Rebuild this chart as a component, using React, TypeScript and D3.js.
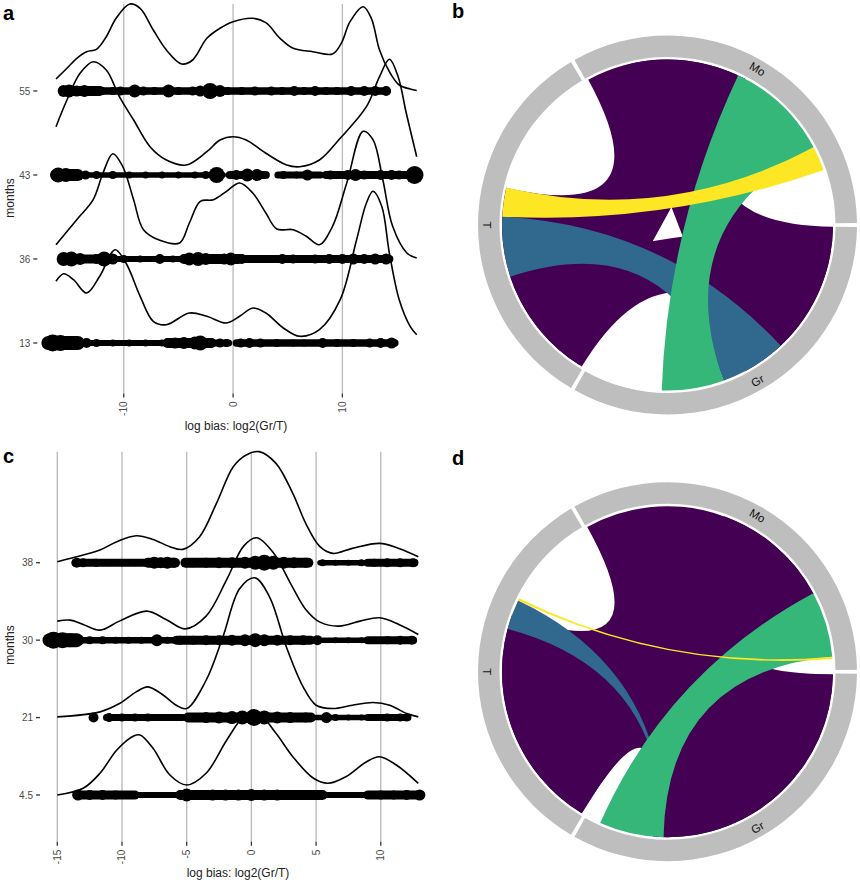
import React from "react";
import * as d3 from "d3";

const FONT = "'Liberation Sans', Arial, Helvetica, sans-serif";
const VIRIDIS = ["#440154", "#31688E", "#35B779", "#FDE725"];
const GRID = "#bdbdbd";

type Pt = [number, number];
type Seg = [number, number, number];

// ---------- panel a : ridges per month ----------
const monthsA = ["55", "43", "36", "13"];
const ticksA = [-10, 0, 10];

const densA55: Pt[] = [[-16.2, 12], [-15.2, 22.7], [-14.3, 32.7], [-13.4, 39.3], [-12.5, 41.7], [-11.6, 54.3], [-10.7, 72.7], [-9.45, 87], [-8.5, 82.7], [-7.3, 61], [-6.1, 41], [-4.7, 27], [-3.7, 31], [-2.4, 52.7], [-1.2, 62.7], [0, 69.3], [1.8, 72.7], [3.0, 68.3], [4.3, 52.7], [5.5, 42.7], [7.3, 39.3], [9.1, 37], [9.9, 47.7], [10.7, 69.3], [11.9, 84.3], [12.65, 72.7], [13.4, 41], [14.3, 19.3], [15.2, 6], [16.2, 2], [16.8, 0.5]];
const densA43: Pt[] = [[-16.2, 48.3], [-15.2, 75], [-14.0, 101.7], [-12.8, 113.3], [-11.6, 105], [-10.4, 78.3], [-9.1, 55], [-7.6, 28.3], [-6.1, 15], [-4.3, 10], [-2.4, 23.3], [-1.2, 35], [0, 38.3], [1.2, 35], [3.0, 21.7], [4.9, 10], [6.1, 8.3], [7.9, 15], [9.8, 36.7], [12.2, 68.3], [13.4, 98.3], [14.3, 115.7], [15.1, 98.3], [15.85, 61.7], [16.8, 18.3]];
const densA36: Pt[] = [[-16.2, 14.3], [-14.3, 39.3], [-12.8, 59.3], [-11.9, 86], [-11.0, 105.3], [-10.1, 92.7], [-9.1, 59.3], [-8.2, 29.3], [-6.7, 18.7], [-4.9, 16], [-4.0, 36], [-3.0, 57.7], [-1.8, 59.3], [-0.6, 67.7], [0.6, 76], [1.8, 66], [3.0, 46], [4.0, 30], [5.5, 29.3], [6.7, 22.7], [7.9, 14.3], [9.1, 32.7], [10.4, 76], [11.9, 127.7], [12.8, 119.3], [13.7, 79.3], [14.6, 32.7], [15.9, 6], [16.8, 1]];
const densA13: Pt[] = [[-16.2, 61.7], [-15.5, 69.3], [-14.6, 63.3], [-13.4, 50], [-12.2, 66.7], [-10.8, 93.3], [-9.8, 80], [-8.5, 46.7], [-7.3, 21.7], [-6.1, 18.3], [-4.0, 30], [-2.4, 26.7], [-0.6, 20], [0.6, 26.7], [1.8, 35], [3.0, 30], [4.6, 15], [6.1, 6.7], [7.9, 13.3], [9.8, 43.3], [11.3, 103.3], [12.2, 140], [12.8, 151.7], [13.6, 136.7], [14.3, 90], [15.2, 43.3], [16.2, 16.7], [16.8, 8.3]];

// runs of overlapping observations: [from, to, spread], then single large points [log bias, size]
const segA55: Seg[] = [[-15.5, -12.2, 10], [-12.2, 14.0, 7.5]];
const segA43: Seg[] = [[-16.2, -14.2, 12], [-14.2, -0.9, 5.5], [-0.3, 3.0, 8], [4.1, 8.0, 7], [8.5, 15.8, 8]];
const segA36: Seg[] = [[-15.5, -11, 9], [-11, -4.5, 6], [-4.5, 0.5, 10], [0.5, 14.3, 8]];
const segA13: Seg[] = [[-16.9, -14.2, 14], [-13.6, -6, 6], [-6, -2, 10], [-2, -0.4, 7], [0.3, 14.8, 7.5]];

const dotsA55: Pt[] = [[-15.5, 6], [-15.0, 6.5], [-14.3, 5.5], [-13.6, 6], [-12.8, 5], [-12.0, 4], [-11.0, 4], [-10.3, 4.5], [-9.0, 6.5], [-8.2, 4.5], [-7.2, 4], [-5.9, 6.5], [-5.0, 4], [-3.7, 4.5], [-3.0, 5.5], [-2.1, 8], [-1.2, 6], [-0.5, 4], [0.8, 4], [2.0, 4.5], [3.5, 4.5], [4.5, 4], [5.6, 5], [6.5, 4], [7.5, 5], [8.5, 4], [9.5, 4], [10.8, 5], [12.0, 5], [13.0, 5], [14.0, 5]];
const dotsA43: Pt[] = [[-16.0, 7.5], [-15.3, 7], [-14.6, 6], [-13.5, 4.5], [-12.5, 4], [-11.0, 4], [-9.5, 3.5], [-8.0, 3.5], [-6.5, 3.5], [-5.0, 3.5], [-3.5, 3.5], [-2.5, 4], [-1.5, 8], [0.3, 5], [1.3, 6.5], [2.2, 6], [4.6, 4], [5.8, 3.5], [6.8, 5.5], [8.9, 4.5], [10.5, 5], [11.2, 6], [12.0, 4.5], [13.5, 5], [14.5, 5], [15.2, 4.5], [16.6, 9]];
const dotsA36: Pt[] = [[-15.5, 7], [-14.8, 7.5], [-14.0, 6], [-12.5, 5], [-11.8, 7.5], [-11.0, 5.5], [-10.0, 4], [-8.5, 3.5], [-6.7, 5], [-5.5, 3.5], [-4.0, 6.5], [-3.2, 7], [-2.5, 6], [-1.5, 5], [-0.8, 5.5], [-0.2, 6.5], [0.8, 5], [2.0, 4], [3.5, 4], [4.5, 5], [5.5, 4.5], [6.5, 4], [7.5, 4.5], [8.8, 5], [10.0, 5], [11.0, 5.5], [12.0, 5], [13.0, 5.5], [14.0, 5.5]];
const dotsA13: Pt[] = [[-16.5, 8.5], [-15.8, 8], [-15.0, 7], [-14.4, 6], [-13.4, 5], [-12.5, 4], [-11.0, 3.5], [-9.5, 3.5], [-8.0, 3.5], [-6.5, 3.5], [-5.3, 5.5], [-4.5, 6], [-3.5, 6.5], [-3.0, 7.5], [-2.0, 5], [-1.2, 4.5], [-0.6, 4], [0.7, 4.5], [1.5, 5], [2.5, 4.5], [4.0, 4], [5.5, 3.5], [6.5, 3.5], [8.2, 5], [9.5, 4], [11.0, 4], [12.5, 4.5], [13.5, 5], [14.5, 5.5]];

// ---------- panel c ----------
const monthsC = ["38", "30", "21", "4.5"];
const ticksC = [-15, -10, -5, 0, 5, 10];

const densC38: Pt[] = [[-15, 1], [-13, 7.7], [-11.7, 12.7], [-10.4, 21], [-8.9, 27], [-7.6, 23.3], [-6.3, 16], [-5.3, 13.3], [-4.0, 26], [-2.7, 59.3], [-1.4, 96], [-0.4, 107.7], [0.6, 111], [1.9, 99.3], [3.2, 69.3], [4.2, 39.3], [5.3, 16], [6.3, 9.3], [7.8, 14.3], [9.9, 19.3], [11.4, 14.3], [12.9, 6]];
const densC30: Pt[] = [[-15, 19], [-14, 20], [-13, 15.7], [-11.7, 10], [-10.2, 19], [-8.1, 29], [-6.6, 20.7], [-5.1, 11.3], [-3.5, 24], [-1.9, 60.7], [-0.6, 94], [0.4, 102.3], [1.7, 87.3], [3.0, 57.3], [4.2, 30.7], [5.3, 18], [6.8, 14], [8.4, 19], [9.9, 22.3], [11.4, 15.7], [12.9, 5.7]];
const densC21: Pt[] = [[-15, 0.7], [-11.7, 5.7], [-10.2, 14], [-8.9, 25.7], [-8.0, 30.7], [-6.8, 22.3], [-5.8, 12.3], [-5.0, 9], [-3.5, 37.3], [-2.2, 80.7], [-0.9, 129], [0.26, 139.7], [1.4, 120.7], [2.7, 70.7], [4.0, 30.7], [5.0, 12.3], [6.3, 9], [7.8, 12.3], [9.4, 15], [10.7, 12.3], [12.0, 4], [12.9, 0.7]];
const densC45: Pt[] = [[-15, 0], [-13, 6.7], [-11.7, 21.7], [-10.4, 45], [-9.1, 59], [-8.6, 60], [-7.6, 46.7], [-6.3, 20], [-5.0, 10], [-3.5, 21.7], [-1.9, 55], [-0.6, 78.3], [0.4, 83.3], [1.9, 61.7], [3.2, 38.3], [4.8, 16.7], [5.9, 11.7], [7.3, 18.3], [8.9, 33.3], [9.9, 38.3], [11.2, 30], [12.9, 11.7]];

const segC38: Seg[] = [[-13.6, -8, 8], [-8, -5.9, 10], [-5.1, 4.4, 10], [5.3, 9, 5.5], [9, 12.6, 8]];
const segC30: Seg[] = [[-15.6, -13.5, 14], [-13.5, -6.0, 6.5], [-5.8, 4.6, 9], [5.5, 9, 5.5], [9, 12.5, 8]];
const segC21: Seg[] = [[-11.2, -5.3, 7], [-4.9, 4.6, 10], [5.0, 9, 5.5], [9, 12.1, 7]];
const segC45: Seg[] = [[-13.5, -9, 9], [-9, -5.5, 6], [-5.5, 5.5, 10], [5.5, 9, 6], [9, 13.1, 9]];

const dotsC38: Pt[] = [[-13.5, 5], [-13.0, 4.5], [-12.0, 4], [-11, 3.5], [-10, 3.5], [-9, 3.5], [-8, 4], [-7.5, 6], [-7.0, 5.5], [-6.5, 6], [-6.0, 5], [-5.0, 4.5], [-4.5, 4.5], [-3.5, 5], [-2.5, 5.5], [-1.5, 5.5], [-0.5, 6], [0.3, 7], [1.0, 8], [1.7, 7], [2.5, 6], [3.3, 5.5], [4.2, 5], [5.5, 3.5], [6.5, 3], [7.5, 3], [8.5, 3.5], [9.5, 4], [10.5, 4.5], [11.5, 4.5], [12.5, 4.5]];
const dotsC30: Pt[] = [[-15.3, 8.5], [-14.6, 8], [-14.0, 7], [-13.3, 5], [-12.5, 4], [-11.5, 4], [-10.5, 3.5], [-9.5, 3.5], [-8.5, 3.5], [-7.3, 6], [-6.5, 3.5], [-5.5, 4.5], [-4.5, 4.5], [-3.5, 5], [-2.5, 5], [-1.5, 5.5], [-0.5, 6], [0.3, 7], [1.0, 6], [2.0, 5.5], [3.0, 5], [4.0, 5], [5.1, 5], [6.5, 3], [7.5, 3], [8.5, 3], [9.5, 3.5], [10.5, 4], [11.5, 4.5], [12.4, 4.5]];
const dotsC21: Pt[] = [[-12.2, 5], [-11.0, 4.5], [-10.0, 4], [-9, 4], [-8, 4], [-7, 3.5], [-6, 3.5], [-5.5, 3.5], [-4.5, 4.5], [-3.5, 5.5], [-2.5, 6], [-1.5, 6.5], [-0.7, 7], [0.2, 8.5], [1.0, 7], [2.0, 6], [3.0, 5.5], [4.2, 5], [5.8, 5.5], [6.5, 3.5], [7.5, 3], [8.5, 3], [9.5, 3.5], [10.5, 4], [11.5, 4], [12.0, 4]];
const dotsC45: Pt[] = [[-13.4, 5.5], [-12.5, 5], [-11.5, 5], [-10.5, 4.5], [-9.5, 4], [-8.5, 3], [-7.5, 3], [-6.5, 3], [-5.0, 6.5], [-4.0, 5], [-3.0, 5.5], [-2.0, 5.5], [-1.0, 5.5], [0, 6], [1.0, 5.5], [2.0, 5.5], [3.0, 5], [4.0, 5], [5.0, 4.5], [6.0, 3], [7.0, 3], [8.0, 3], [9.0, 4], [10.0, 4.5], [11.0, 4.5], [12.0, 5], [13.0, 5.5]];

// ---------- chord panels (degrees, clockwise from 12 o'clock) ----------
const sectorNames = ["T", "Mo", "Gr"];
const sectorStart = [210, 330, 90];
const sectorEnd = [330, 450, 210];
// [source start, source end, target start, target end, colour]
const linksB = [
  [331.4, 385, 212, 283, 0],
  [90.6, 152, 346, 388, 0],
  [211.2, 252, 91, 140, 0],
  [251.8, 272.9, 136.8, 160.2, 1],
  [25.3, 62, 160.2, 182, 2],
  [272.9, 283.1, 62, 70.6, 3],
];
const linksD = [
  [331, 421.7, 211.2, 290, 0],
  [91, 181, 20, 62, 0],
  [211.2, 285, 91, 185, 0],
  [285, 295.5, 181.4, 182, 1],
  [61.7, 84.8, 181.4, 204, 2],
  [295.5, 296.3, 84.8, 85.6, 3],
];

type RowData = { dens: Pt[]; segs: Seg[]; dots: Pt[] };

function RidgePanel(p: {
  months: string[];
  rows: RowData[];
  ticks: number[];
  xDomain: [number, number];
  xRange: [number, number];
  yRange: [number, number];
  refStep: number;
  top: number;
  bottom: number;
  axisLeft: number;
  titleX: number;
  titleY: number;
  monthsY: number;
}) {
  const x = d3.scaleLinear().domain(p.xDomain).range(p.xRange);
  const y = d3.scalePoint<string>().domain(p.months).range(p.yRange);
  const h = d3.scaleLinear().domain([0, 100]).range([0, (100 * y.step()) / p.refStep]);
  const size = d3.scaleLinear().domain([0, 10]).range([0, 10]);

  return (
    <g fontFamily={FONT}>
      {p.ticks.map((t) => (
        <g key={t}>
          <line x1={x(t)} x2={x(t)} y1={p.top} y2={p.bottom} stroke={GRID} strokeWidth={1.4} />
          <line x1={x(t)} x2={x(t)} y1={p.bottom} y2={p.bottom + 4} stroke="#333" strokeWidth={1.3} />
          <text
            transform={`translate(${x(t)},${p.bottom + 8}) rotate(-90)`}
            textAnchor="end"
            dy="0.35em"
            fontSize={10}
            fill="#4d4d4d"
          >
            {t}
          </text>
        </g>
      ))}
      {p.months.map((m, i) => {
        const base = y(m) as number;
        const row = p.rows[i];
        const line = d3
          .line<Pt>()
          .x((d) => x(d[0]))
          .y((d) => base - h(d[1]))
          .curve(d3.curveCatmullRom.alpha(0.5));
        return (
          <g key={m}>
            <line x1={p.axisLeft - 4} x2={p.axisLeft} y1={base} y2={base} stroke="#333" strokeWidth={1.3} />
            <text x={p.axisLeft - 7} y={base} dy="0.35em" textAnchor="end" fontSize={10} fill="#4d4d4d">
              {m}
            </text>
            {row.segs.map((s, j) => (
              <line key={j} x1={x(s[0])} x2={x(s[1])} y1={base} y2={base} stroke="#000" strokeWidth={s[2]} strokeLinecap="round" />
            ))}
            {row.dots.map((d, j) => (
              <circle key={j} cx={x(d[0])} cy={base} r={size(d[1])} fill="#000" />
            ))}
            <path d={line(row.dens) || ""} fill="none" stroke="#000" strokeWidth={1.6} />
          </g>
        );
      })}
      <text transform={`translate(10,${p.monthsY}) rotate(-90)`} textAnchor="middle" dy="0.35em" fontSize={12} fill="#222">
        months
      </text>
      <text x={p.titleX} y={p.titleY} textAnchor="middle" fontSize={12} fill="#222">
        log bias: log2(Gr/T)
      </text>
    </g>
  );
}

function ChordPanel({ cx, cy, links }: { cx: number; cy: number; links: number[][] }) {
  const rad = (d: number) => (d * Math.PI) / 180;
  const arc = d3.arc<any>();
  const ribbon = d3.ribbon<any, any>().radius(165.5);
  const gap = 0.6;
  return (
    <g transform={`translate(${cx},${cy})`} fontFamily={FONT}>
      {sectorNames.map((name, i) => {
        const s = sectorStart[i];
        const e = sectorEnd[i];
        const mid = (((s + e) / 2) % 360 + 360) % 360;
        const lx = 180 * Math.sin(rad(mid));
        const ly = -180 * Math.cos(rad(mid));
        const rot = mid >= 90 && mid <= 270 ? mid - 180 : mid;
        return (
          <g key={name}>
            <path
              d={arc({ innerRadius: 168, outerRadius: 189.5, startAngle: rad(s + gap), endAngle: rad(e - gap) }) || ""}
              fill="#bebebe"
            />
            <text transform={`translate(${lx},${ly}) rotate(${rot})`} textAnchor="middle" dy="0.35em" fontSize={11.5} fill="#111">
              {name}
            </text>
          </g>
        );
      })}
      {links.map((l, i) => (
        <path
          key={i}
          d={
            (ribbon({
              source: { startAngle: rad(l[0]), endAngle: rad(l[1]) },
              target: { startAngle: rad(l[2]), endAngle: rad(l[3]) },
            }) as unknown as string) || ""
          }
          fill={VIRIDIS[l[4]]}
        />
      ))}
    </g>
  );
}

export default function App() {
  const rowsA: RowData[] = [
    { dens: densA55, segs: segA55, dots: dotsA55 },
    { dens: densA43, segs: segA43, dots: dotsA43 },
    { dens: densA36, segs: segA36, dots: dotsA36 },
    { dens: densA13, segs: segA13, dots: dotsA13 },
  ];
  const rowsC: RowData[] = [
    { dens: densC38, segs: segC38, dots: dotsC38 },
    { dens: densC30, segs: segC30, dots: dotsC30 },
    { dens: densC21, segs: segC21, dots: dotsC21 },
    { dens: densC45, segs: segC45, dots: dotsC45 },
  ];
  return (
    <svg
      width={860}
      height={883}
      style={{ position: "absolute", left: 0, top: 0, background: "#fff" }}
    >
      <RidgePanel
        months={monthsA}
        rows={rowsA}
        ticks={ticksA}
        xDomain={[-16.2, 16.8]}
        xRange={[56, 416.7]}
        yRange={[91, 343]}
        refStep={84}
        top={4}
        bottom={393.5}
        axisLeft={37.3}
        titleX={236}
        titleY={430}
        monthsY={198}
      />
      <RidgePanel
        months={monthsC}
        rows={rowsC}
        ticks={ticksC}
        xDomain={[-15, 12.9]}
        xRange={[57.3, 418.3]}
        yRange={[562.7, 795]}
        refStep={77.4}
        top={451.7}
        bottom={841.7}
        axisLeft={40}
        titleX={238}
        titleY={877}
        monthsY={645}
      />
      <ChordPanel cx={667.5} cy={225} links={linksB} />
      <ChordPanel cx={667.5} cy={671.7} links={linksD} />
      <g fontFamily={FONT} fontWeight="bold" fontSize={20} fill="#000">
        <text x={3} y={20}>a</text>
        <text x={452} y={18}>b</text>
        <text x={3} y={463}>c</text>
        <text x={452} y={465}>d</text>
      </g>
    </svg>
  );
}
